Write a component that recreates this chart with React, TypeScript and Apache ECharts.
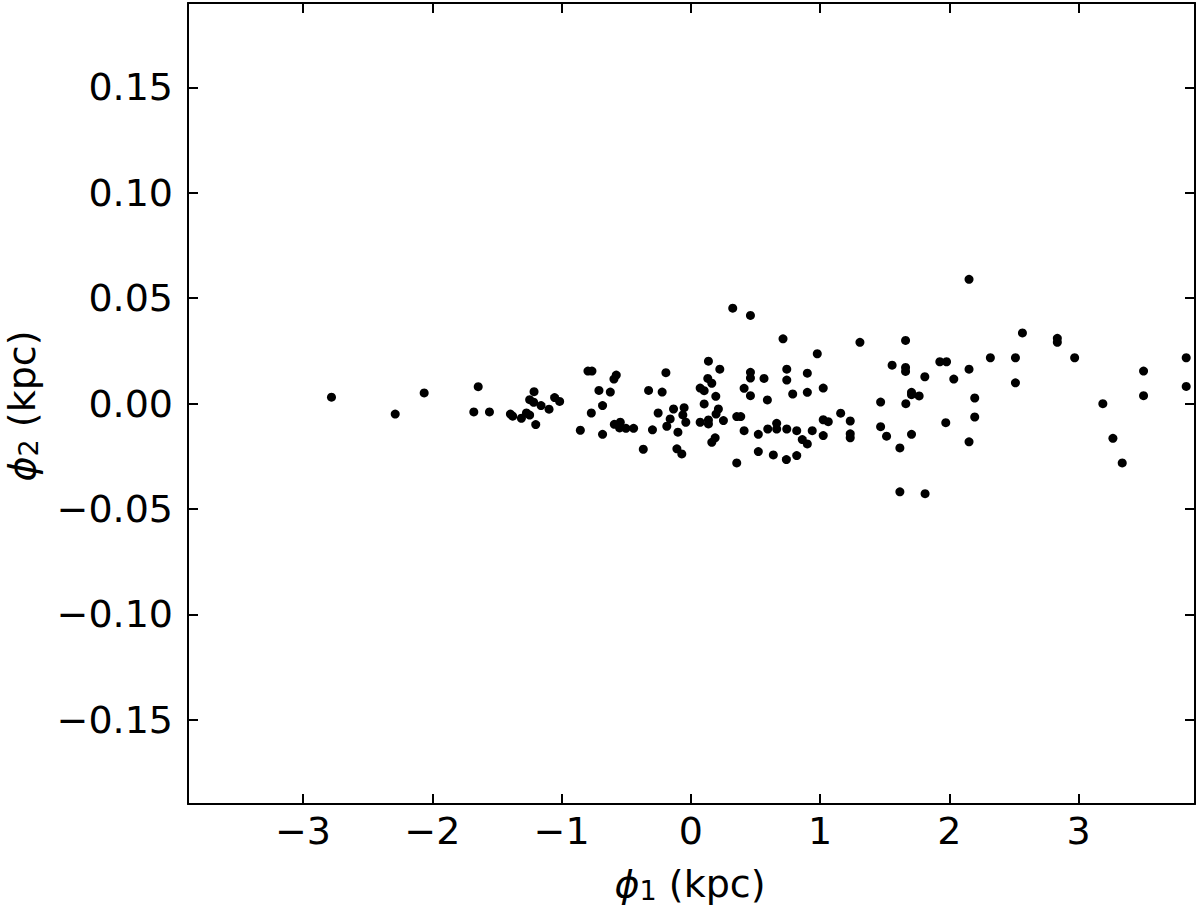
import React, { useEffect, useRef } from "react";
import * as echarts from "echarts";

// phi1 (kpc), phi2 (kpc) pairs
const leftGroup: number[][] = [
  [-2.78, 0.003], [-2.287, -0.005], [-2.063, 0.005], [-1.645, 0.008], [-1.679, -0.004],
  [-1.558, -0.004], [-1.396, -0.005], [-1.378, -0.006], [-1.311, -0.007], [-1.272, -0.0045],
  [-1.247, -0.0055], [-1.213, 0.0056], [-1.247, 0.0018], [-1.216, 0.0006], [-1.2, -0.010],
  [-1.159, -0.001], [-1.097, -0.0027], [-1.054, 0.0028], [-1.015, 0.001], [-0.855, -0.0127],
  [-0.796, 0.0154], [-0.765, 0.0154], [-0.595, 0.0116], [-0.577, 0.0135], [-0.711, 0.0062],
  [-0.623, 0.0054], [-0.683, -0.001], [-0.77, -0.0045], [-0.683, -0.0146], [-0.592, -0.0099],
  [-0.546, -0.0089], [-0.551, -0.0116], [-0.502, -0.0118], [-0.443, -0.0118], [-0.368, -0.0217],
  [-0.327, 0.0062], [-0.222, 0.0054], [-0.193, 0.0146], [-0.253, -0.0045], [-0.297, -0.0125],
  [-0.186, -0.0108], [-0.16, -0.0073], [-0.134, -0.0026], [-0.1, -0.0136], [-0.108, -0.0215],
  [-0.07, -0.0239], [-0.052, -0.002], [-0.062, -0.0054], [-0.039, -0.0089],
];

const centerGroup: number[][] = [
  [0.324, 0.0452], [0.461, 0.0418], [0.713, 0.0307], [0.978, 0.0236], [1.308, 0.029],
  [0.136, 0.0201], [0.224, 0.0163], [0.131, 0.0119], [0.162, 0.0096], [0.072, 0.0073],
  [0.103, 0.0061], [0.193, 0.0034], [0.103, -0.0002], [0.213, -0.0026], [0.195, -0.005],
  [0.072, -0.0089], [0.136, -0.0097], [0.136, -0.0078], [0.252, -0.0081], [0.162, -0.0184],
  [0.188, -0.0163], [0.355, -0.0282], [0.355, -0.0062], [0.386, -0.0062], [0.412, -0.0129],
  [0.412, 0.0072], [0.461, 0.0148], [0.461, 0.0121], [0.461, 0.0037], [0.566, 0.0119],
  [0.592, 0.0017], [0.522, -0.0146], [0.522, -0.0228], [0.595, -0.0121], [0.638, -0.0244],
  [0.664, -0.0094], [0.664, -0.0121], [0.742, -0.0121], [0.739, -0.0266], [0.819, -0.0247],
  [0.819, -0.0129], [0.742, 0.0163], [0.742, 0.0111], [0.788, 0.0045], [0.901, 0.0144],
  [0.901, 0.0053], [1.024, 0.0073], [0.862, -0.0171], [0.901, -0.0192], [0.939, -0.0129],
  [1.024, -0.0152], [1.024, -0.0077], [1.063, -0.0086], [1.159, -0.0046], [1.233, -0.0083],
  [1.233, -0.0144], [1.233, -0.0163],
];

const rightGroup: number[][] = [
  [2.152, 0.0589], [1.661, 0.0299], [1.557, 0.0182], [1.661, 0.0171], [1.661, 0.0152],
  [1.81, 0.0127], [1.926, 0.0198], [1.978, 0.0198], [2.034, 0.0116], [2.152, 0.0163],
  [2.317, 0.0217], [2.511, 0.0217], [2.511, 0.0098], [2.565, 0.0335], [2.835, 0.0309],
  [2.835, 0.029], [2.969, 0.0217], [3.187, -0.0001], [3.265, -0.0165], [3.337, -0.0282],
  [3.502, 0.0154], [3.502, 0.0037], [3.832, 0.0217], [3.832, 0.0081], [1.468, 0.0007],
  [1.663, -0.0001], [1.707, 0.0053], [1.707, 0.0042], [1.766, 0.0036], [2.196, 0.0026],
  [2.196, -0.0064], [2.152, -0.0182], [1.972, -0.0091], [1.468, -0.011], [1.514, -0.0155],
  [1.707, -0.0146], [1.617, -0.0211], [1.617, -0.0419], [1.812, -0.0428],
];

const xTicks: number[] = [-3, -2, -1, 0, 1, 2, 3];
const yTicks: number[] = [-0.15, -0.1, -0.05, 0, 0.05, 0.1, 0.15];
const xRange: number[] = [-3.89, 3.9];
const yRange: number[] = [-0.19, 0.19];

const FONT = "DejaVu Sans";
const MINUS = "\u2212";

const fmtX = (v: number) => (v < 0 ? MINUS : "") + Math.abs(Math.round(v)).toString();
const fmtY = (v: number) => (v < -1e-9 ? MINUS : "") + Math.abs(v).toFixed(2);

export default function App() {
  const ref = useRef<HTMLDivElement>(null);
  useEffect(() => {
    if (!ref.current) return;
    const chart = echarts.init(ref.current, null, { renderer: "svg" });
    const line = { show: true, onZero: false, lineStyle: { color: "#000", width: 2 } };
    const tickX = { show: true, inside: true, length: 10, customValues: xTicks, lineStyle: { color: "#000", width: 2 } };
    const tickY = { show: true, inside: true, length: 10, customValues: yTicks, lineStyle: { color: "#000", width: 2 } };
    const rich = {
      i: { fontFamily: FONT, fontStyle: "italic", fontSize: 38, lineHeight: 40, color: "#000" },
      s: { fontFamily: FONT, fontSize: 27, lineHeight: 27, color: "#000", padding: [13, 0, 0, 0] },
      t: { fontFamily: FONT, fontSize: 38, lineHeight: 40, color: "#000" },
    };
    const dot = { color: "#000", opacity: 1 };
    chart.setOption({
      animation: false,
      backgroundColor: "#fff",
      grid: { left: 188, right: 5, top: 3, bottom: 102, containLabel: false },
      xAxis: [
        {
          type: "value", min: xRange[0], max: xRange[1], position: "bottom",
          axisLine: line, axisTick: tickX, splitLine: { show: false },
          axisLabel: { customValues: xTicks, formatter: fmtX, color: "#000", fontSize: 38, fontFamily: FONT, margin: 8 },
        },
        {
          type: "value", min: xRange[0], max: xRange[1], position: "top",
          axisLine: line, axisTick: tickX, splitLine: { show: false }, axisLabel: { show: false },
        },
      ],
      yAxis: [
        {
          type: "value", min: yRange[0], max: yRange[1], position: "left",
          axisLine: line, axisTick: tickY, splitLine: { show: false },
          axisLabel: { customValues: yTicks, formatter: fmtY, color: "#000", fontSize: 38, fontFamily: FONT, margin: 15 },
        },
        {
          type: "value", min: yRange[0], max: yRange[1], position: "right",
          axisLine: line, axisTick: tickY, splitLine: { show: false }, axisLabel: { show: false },
        },
      ],
      graphic: [
        {
          type: "text", x: 690, y: 884,
          style: { text: "{i|\u03d5}{s|1}{t| (kpc)}", rich, align: "center", verticalAlign: "middle" },
        },
        {
          type: "text", x: 22, y: 406, rotation: Math.PI / 2,
          style: { text: "{i|\u03d5}{s|2}{t| (kpc)}", rich, align: "center", verticalAlign: "middle" },
        },
      ],
      series: [
        { type: "scatter", data: leftGroup, symbolSize: 9, itemStyle: dot },
        { type: "scatter", data: centerGroup, symbolSize: 9, itemStyle: dot },
        { type: "scatter", data: rightGroup, symbolSize: 9, itemStyle: dot },
      ],
    });
    return () => chart.dispose();
  }, []);
  return <div ref={ref} style={{ position: "fixed", left: 0, top: 0, width: 1200, height: 906 }} />;
}
